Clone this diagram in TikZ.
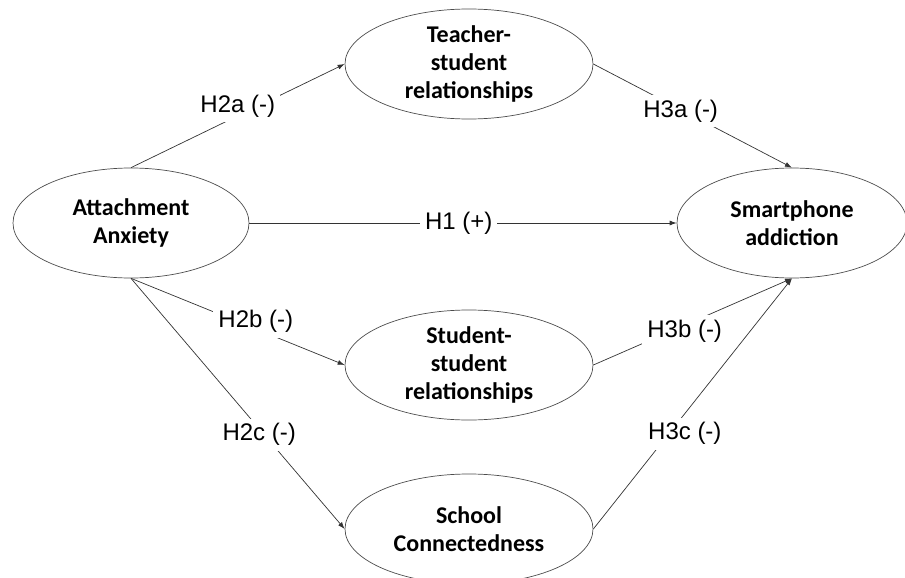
\documentclass[tikz,border=0pt]{standalone}
\usepackage{fontspec}
\setmainfont{Liberation Sans}
\newfontfamily\boldfont{Carlito}
\usetikzlibrary{shapes.geometric,arrows.meta}

\begin{document}
\begin{tikzpicture}[x=1pt, y=-1pt, >={Latex[length=7pt,width=5pt]},
  construct/.style={ellipse, draw=black!70, line width=0.7pt, inner sep=0pt,
    minimum width=236pt, minimum height=110pt, align=center,
    font=\boldfont\bfseries\fontsize{24}{28}\selectfont},
  path/.style={draw=black!80, line width=0.7pt},
  hyp/.style={fill=white, inner sep=5pt, font=\fontsize{24}{28}\selectfont}]
  \useasboundingbox (0,0) rectangle (905,578);

  % Constructs
  \node[construct] (anx) at (131,223) {Attachment\\Anxiety};
  \node[construct, minimum width=248pt] (tsr) at (469,64) {Teacher-\\student\\relationships};
  \node[construct, minimum width=248pt] (ssr) at (469,365) {Student-\\student\\relationships};
  \node[construct, minimum width=248pt] (sch) at (469,529) {School\\Connectedness};
  \node[construct, minimum width=230pt] (sma) at (792,223) {Smartphone\\addiction};

  % Direct path
  \draw[path,->] (anx) -- (sma) node[hyp,pos=0.49] {H1 (+)};

  % Paths to mediators
  \draw[path,->] (anx.north) -- (tsr.west) node[hyp,midway,yshift=10pt] {H2a (-)};
  \draw[path,->] (anx.south) -- (ssr.west) node[hyp,midway,xshift=18pt] {H2b (-)};
  \draw[path,->] (anx.south) -- (sch.west) node[hyp,pos=0.6,yshift=-6pt] {H2c (-)};

  % Paths from mediators
  \draw[path,->] (tsr.east) -- (sma.north) node[hyp,midway,xshift=-12pt,yshift=5pt] {H3a (-)};
  \draw[path,->] (ssr.east) -- (sma.south) node[hyp,midway,xshift=-8pt,yshift=-10pt] {H3b (-)};
  \draw[path,->] (sch.east) -- (sma.south) node[hyp,pos=0.38,xshift=16pt] {H3c (-)};
\end{tikzpicture}
\end{document}
